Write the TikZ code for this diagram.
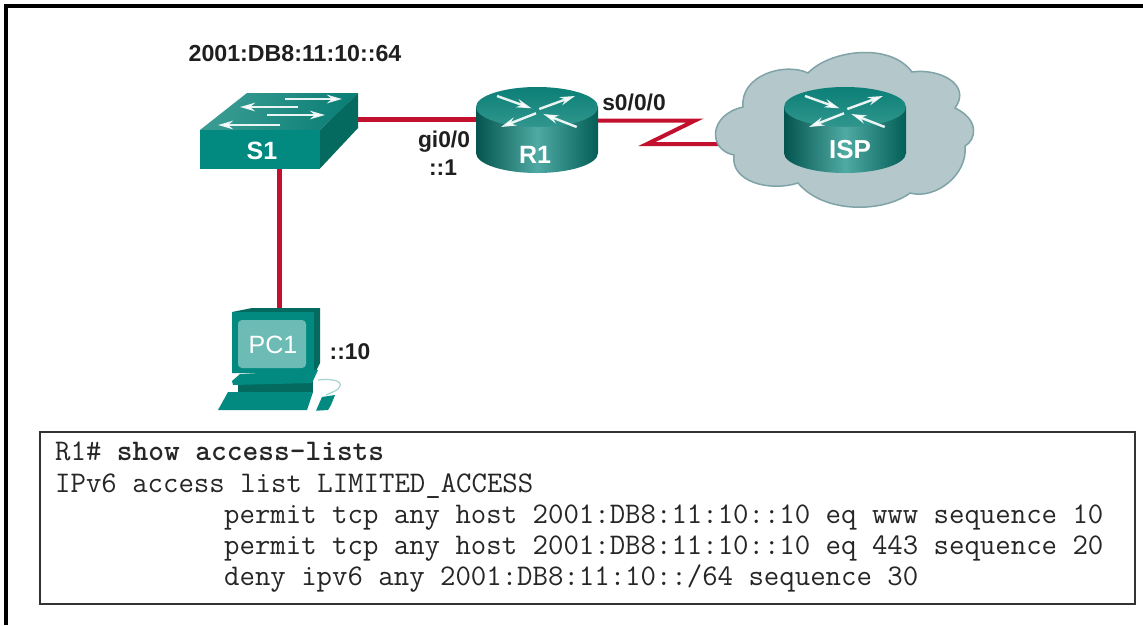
\documentclass[tikz,border=0pt]{standalone}
\usepackage{fontspec}
\setmainfont{Liberation Sans}
\usetikzlibrary{arrows.meta}
\definecolor{linkred}{HTML}{C4102F}
\definecolor{tealfront}{HTML}{028A80}
\definecolor{tealside}{HTML}{04695F}
\definecolor{tealtopa}{HTML}{3A9C93}
\definecolor{tealtopb}{HTML}{0B7F76}
\definecolor{tealdark}{HTML}{045E58}
\definecolor{teallight}{HTML}{4FAAA3}
\definecolor{cloudfill}{HTML}{B4C7CA}
\definecolor{cloudline}{HTML}{7FA3A6}
\definecolor{screenfill}{HTML}{6DBBB5}
\definecolor{cablecol}{HTML}{A5D3CF}
\tikzset{
  x=1pt,y=-1pt,
  link/.style={draw=linkred,line width=5pt,miter limit=20},
  flowarrow/.style={draw=white,line width=2.4pt,-{Stealth[length=15pt,width=8.5pt]},opacity=.9},
  netlabel/.style={font=\fontsize{22.8}{26}\selectfont\bfseries,text=black!88,inner sep=0pt},
  devlabel/.style={font=\fontsize{25}{28}\selectfont\bfseries,text=white,inner sep=0pt},
  codeline/.style={font=\fontsize{29.95}{32}\selectfont\ttfamily,text=black!85,anchor=base west,inner sep=0pt},
  codebox/.style={draw=black!80,line width=2pt,fill=white,inner sep=0pt,minimum width=1095pt,minimum height=172pt},
  pics/routerpic/.style={code={
    \shade[left color=tealdark!90!black,right color=tealdark,middle color=teallight]
      (-61,0) -- (-61,46) arc[start angle=180,end angle=0,x radius=61,y radius=20] -- (61,0) -- cycle;
    \shade[top color=tealtopb,bottom color=tealtopa!80!tealtopb,shading angle=0]
      (0,0) ellipse[x radius=61,y radius=20];
    \draw[flowarrow] (-40,-11) -- (-5.5,1.3);
    \draw[flowarrow] (2.3,2) -- (38,-11);
    \draw[flowarrow] (-1,6.3) -- (-36,20);
    \draw[flowarrow] (39.7,20) -- (6.3,7);
  }}
}
\begin{document}
\begin{tikzpicture}
\useasboundingbox (0,0) rectangle (1143,625);
\fill[white] (0,0) rectangle (1143,625);
% page frame
\fill[black] (4,4) rectangle (1143,7.5);
\fill[black] (4,4) rectangle (8,625);
% port coordinates
\coordinate (s1east) at (358,119);
\coordinate (s1south) at (279,168);
\coordinate (r1west) at (476,119);
\coordinate (r1east) at (598,120.5);
\coordinate (bendA) at (695,120.5);
\coordinate (bendB) at (647,144);
\coordinate (cloudwest) at (721,144);
\coordinate (pc1top) at (279,308);
% connectors
\draw[link] (s1east) -- (r1west);
\draw[link] (s1south) -- (pc1top);
\draw[link,line width=4pt] (r1east) -- (bendA) -- (bendB) -- (cloudwest);
% switch S1
\shade[left color=tealtopa,right color=tealtopb,shading angle=70] (247,93) -- (358,93) -- (320,130) -- (200,130) -- cycle;
\fill[tealfront] (200,130) rectangle (320,168.5);
\fill[tealside] (320,130) -- (358,93) -- (358,128) -- (320,168.5) -- cycle;
\draw[flowarrow] (285,99) -- (342,99);
\draw[flowarrow] (298,107) -- (240,107);
\draw[flowarrow] (267,115) -- (325,115);
\draw[flowarrow] (280,125) -- (218,125);
\node[devlabel] (s1) at (262,151) {S1};
% router R1
\pic at (537,107) {routerpic};
\node[devlabel] (r1) at (535,155) {R1};
% cloud
\draw[draw=cloudline,fill=cloudfill,line width=1.5pt]
  (808,73)
  .. controls (830,50) and (890,42) .. (912,72)
  .. controls (940,68) and (972,85) .. (955,108)
  .. controls (980,120) and (976,140) .. (965,146)
  .. controls (968,175) and (935,200) .. (910,193)
  .. controls (885,212) and (825,215) .. (798,183)
  .. controls (770,192) and (730,182) .. (734,155)
  .. controls (708,150) and (708,115) .. (743,107)
  .. controls (740,75) and (785,62) .. (808,73)
  -- cycle;
% router ISP
\pic at (845,107) {routerpic};
\node[devlabel,font=\fontsize{26}{28}\selectfont\bfseries] (isp) at (850,150) {ISP};
% PC1
\fill[tealside] (232,312) -- (252,308) -- (320,308) -- (320,363) -- (315,373) -- (232,373) -- cycle;
\fill[tealfront] (232,312) -- (314,312) -- (314,373) -- (232,373) -- cycle;
\fill[screenfill] (238,320) [rounded corners=4pt] -- (306,320) -- (306,368) -- (238,368) -- cycle;
\fill[tealside] (238,380) -- (313,380) -- (313,392) -- (238,392) -- cycle;
\fill[tealfront] (240,374) -- (318,370) -- (312,383) -- (233,385) -- (232,381) -- cycle;
\fill[tealfront] (228,392) -- (313,392) -- (307,410) -- (218,410) -- cycle;
\draw[cablecol,line width=1.2pt] (318,380) .. controls (335,378) and (345,382) .. (338,389) .. controls (334,392) and (330,393) .. (326,395);
\fill[tealfront] (322,397) -- (335,395) -- (331,405) -- (328,410) -- (316,410.7) -- cycle;
\node[font=\fontsize{25}{28}\selectfont,text=white,inner sep=0pt] (pc1) at (273,345) {PC1};
% labels
\node[netlabel,font=\fontsize{23.2}{26}\selectfont\bfseries] (addr) at (295,54) {2001:DB8:11:10::64};
\node[netlabel] (gi) at (444,142) {gi0/0};
\node[netlabel] (gia) at (443,168) {::1};
\node[netlabel] (s0) at (634,102) {s0/0/0};
\node[netlabel] (pca) at (350,352) {::10};
% output box
\node[codebox,anchor=north west] (box) at (39,431) {};
\node[codeline] (l1) at (55,460) {R1\# \textbf{show access-lists}};
\node[codeline] (l2) at (55,492) {IPv6 access list LIMITED\_ACCESS};
\node[codeline] (l3) at (224,523) {permit tcp any host 2001:DB8:11:10::10 eq www sequence 10};
\node[codeline] (l4) at (224,554) {permit tcp any host 2001:DB8:11:10::10 eq 443 sequence 20};
\node[codeline] (l5) at (224,585) {deny ipv6 any 2001:DB8:11:10::/64 sequence 30};
\end{tikzpicture}
\end{document}
